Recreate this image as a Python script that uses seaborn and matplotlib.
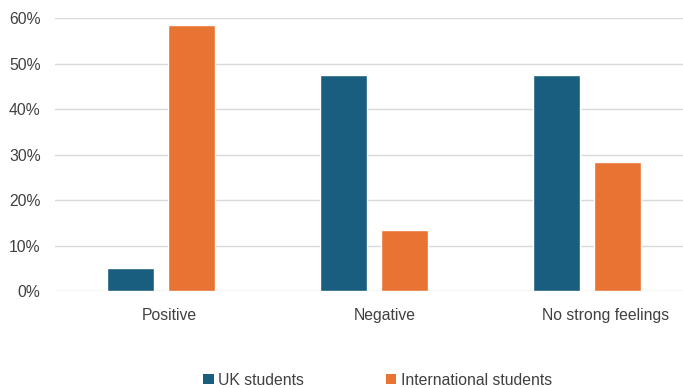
import matplotlib
matplotlib.use("Agg")
import matplotlib.pyplot as plt
import matplotlib.transforms as mtransforms
import seaborn as sns
import pandas as pd
from matplotlib.ticker import FuncFormatter
from matplotlib.patches import Patch

categories = ["Positive", "Negative", "No strong feelings"]
uk_students = [5.0, 47.5, 47.5]
international_students = [58.5, 13.3, 28.3]
series_names = ["UK students", "International students"]
colors = ["#195e7f", "#e87332"]

df = pd.DataFrame({
    "feeling": categories * 2,
    "group": [series_names[0]] * 3 + [series_names[1]] * 3,
    "share": uk_students + international_students,
})

sns.set_theme(style="white")
plt.rcParams["font.family"] = ["Liberation Sans", "DejaVu Sans"]

FS = 11.3
TEXT = "#404040"

fig = plt.figure(figsize=(6.83, 3.88), dpi=100)
ax = fig.add_axes([0.0798, 0.25, 0.9356, 0.7036])

sns.barplot(data=df, x="feeling", y="share", hue="group", order=categories,
            hue_order=series_names, palette=colors, width=0.568, gap=0.22,
            saturation=1, ax=ax, legend=False)

ax.set_ylim(0, 60)
ax.set_xlim(-0.5, 2.5)
ax.set_yticks(range(0, 61, 10))
ax.yaxis.set_major_formatter(FuncFormatter(lambda v, p: f"{v:.0f}%"))
ax.grid(axis="y", color="#d9d9d9", linewidth=1)
ax.set_axisbelow(True)
for s in ax.spines.values():
    s.set_visible(False)
ax.set_xlabel("")
ax.set_ylabel("")
ax.tick_params(axis="y", length=0, pad=10, labelsize=FS, labelcolor=TEXT)
ax.tick_params(axis="x", length=0, pad=12, labelsize=FS, labelcolor=TEXT)

# nudge category labels slightly to the right
for lab, dx in zip(ax.get_xticklabels(), [0.085, 0.11, 0.19]):
    lab.set_transform(lab.get_transform() +
                      mtransforms.ScaledTranslation(dx, 0, fig.dpi_scale_trans))

handles = [Patch(facecolor=c, edgecolor="none") for c in colors]
fig.legend(handles, series_names, loc="center", bbox_to_anchor=(0.553, 0.02),
           ncol=2, frameon=False, fontsize=FS, handlelength=0.65, handleheight=0.65,
           handletextpad=0.3, columnspacing=5.2, labelcolor=TEXT)

fig.savefig("out.png", dpi=100)
